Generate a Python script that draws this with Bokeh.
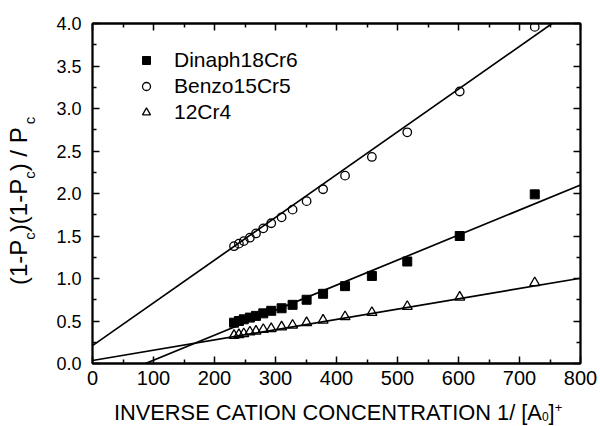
from bokeh.plotting import figure
from bokeh.layouts import column, row
from bokeh.models import (Range1d, LinearAxis, Legend, LegendItem, FixedTicker, Div,
                          CustomJSTickFormatter, NumeralTickFormatter)
from bokeh.embed import file_html
from bokeh.resources import INLINE

# ---- data ----
inv_conc = [232, 240, 248, 258, 268, 280, 293, 310, 328, 351, 378, 414, 458, 516, 602, 725]
y_dinaph18cr6 = [0.48, 0.50, 0.52, 0.54, 0.56, 0.59, 0.62, 0.65, 0.69, 0.75, 0.82, 0.91, 1.03, 1.20, 1.50, 1.99]
y_benzo15cr5 = [1.38, 1.41, 1.44, 1.48, 1.53, 1.59, 1.65, 1.72, 1.81, 1.91, 2.05, 2.21, 2.43, 2.72, 3.20, 3.96]
y_12cr4 = [0.33, 0.34, 0.35, 0.37, 0.38, 0.40, 0.41, 0.43, 0.45, 0.48, 0.51, 0.55, 0.60, 0.67, 0.78, 0.95]

# linear fits (intercept, slope)
fit_dinaph18cr6 = (-0.256, 0.002945)
fit_benzo15cr5 = (0.21, 0.00503)
fit_12cr4 = (0.035, 0.00121)
fit_x = [0, 800]

x_ticks = [0, 100, 200, 300, 400, 500, 600, 700, 800]
y_ticks = [0.0, 0.5, 1.0, 1.5, 2.0, 2.5, 3.0, 3.5, 4.0]

FONT = "Liberation Sans"
YDIV_W = 40
PLOT_H = 400

p = figure(width=600 - YDIV_W, height=PLOT_H, output_backend="svg", toolbar_location=None,
           x_range=Range1d(0, 800), y_range=Range1d(0, 4),
           min_border_left=92 - YDIV_W, min_border_right=20, min_border_top=23,
           min_border_bottom=PLOT_H - 363)
p.xgrid.visible = False
p.ygrid.visible = False
p.outline_line_color = "black"
p.outline_line_width = 1.8
p.background_fill_color = "white"
p.border_fill_color = "white"


def style_axis(ax, show_labels, size):
    ax.axis_line_color = "black"
    ax.axis_line_width = 1.8
    ax.major_tick_line_color = "black"
    ax.minor_tick_line_color = "black"
    ax.major_tick_line_width = 1.5
    ax.minor_tick_line_width = 1.5
    ax.major_tick_in = 7
    ax.major_tick_out = 0
    ax.minor_tick_in = 4
    ax.minor_tick_out = 0
    ax.major_label_text_font = FONT
    ax.major_label_text_color = "black"
    ax.major_label_text_font_size = size
    if not show_labels:
        ax.formatter = CustomJSTickFormatter(code="return ''")
        ax.major_label_standoff = 0


xt = FixedTicker(ticks=x_ticks, minor_ticks=[50 + 100 * i for i in range(8)])
yt = FixedTicker(ticks=y_ticks, minor_ticks=[0.25 + 0.5 * i for i in range(8)])

p.xaxis.ticker = xt
p.yaxis.ticker = yt
p.yaxis.formatter = NumeralTickFormatter(format="0.0")
style_axis(p.xaxis[0], True, "20px")
style_axis(p.yaxis[0], True, "18px")
p.xaxis.major_label_standoff = 7
p.yaxis.major_label_standoff = 11

top_ax = LinearAxis(ticker=xt)
right_ax = LinearAxis(ticker=yt)
style_axis(top_ax, False, "1px")
style_axis(right_ax, False, "1px")
p.add_layout(top_ax, "above")
p.add_layout(right_ax, "right")

# fit lines
for (b, m) in (fit_benzo15cr5, fit_dinaph18cr6, fit_12cr4):
    p.line(fit_x, [b + m * x for x in fit_x], line_color="black", line_width=1.7)

r_d = p.scatter(inv_conc, y_dinaph18cr6, marker="square", size=9,
                fill_color="black", line_color="black")
r_b = p.scatter(inv_conc, y_benzo15cr5, marker="circle", size=8.5,
                fill_color=None, line_color="black", line_width=1.3)
r_t = p.scatter(inv_conc, y_12cr4, marker="triangle", size=10,
                fill_color=None, line_color="black", line_width=1.3)

legend = Legend(items=[LegendItem(label="Dinaph18Cr6", renderers=[r_d]),
                       LegendItem(label="Benzo15Cr5", renderers=[r_b]),
                       LegendItem(label="12Cr4", renderers=[r_t])],
                location=(44, 239), border_line_color=None, background_fill_alpha=0,
                padding=0, margin=0, spacing=2, glyph_width=20, glyph_height=20,
                label_height=20, label_standoff=18, label_text_font=FONT,
                label_text_font_size="21px", label_text_color="black")
p.add_layout(legend)

# y-axis title (rotated, with subscripts)
sub_y = '<span style="font-size:15px; vertical-align:-8px;">c</span>'
y_html = (
    f'<div style="width:{PLOT_H}px; height:{YDIV_W}px; box-sizing:border-box; '
    f'padding-left:{PLOT_H - 285}px; padding-top:4px; line-height:30px; white-space:nowrap; '
    f'font-family:\'{FONT}\'; font-size:24px; color:black; '
    f'transform-origin:0 0; transform:translateY({PLOT_H}px) rotate(-90deg);">'
    f'(1-P{sub_y})(1-P{sub_y}) / P<span style="font-size:15px; vertical-align:-8px; '
    f'margin-left:3px;">c</span></div>'
)
ydiv = Div(text=y_html, width=YDIV_W, height=PLOT_H, margin=0)

# x-axis title (with subscript and superscript)
x_html = (
    f'<div style="width:600px; height:26px; box-sizing:border-box; padding-left:114px; '
    f'padding-top:0px; line-height:15px; white-space:nowrap; font-family:\'{FONT}\'; '
    f'font-size:21.8px; color:black;">'
    'INVERSE CATION CONCENTRATION 1/ [A'
    '<span style="font-size:12px; vertical-align:-1px; line-height:12px;">0</span>]'
    '<span style="font-size:13px; vertical-align:8px;">+</span></div>'
)
xdiv = Div(text=x_html, width=600, height=426 - PLOT_H, margin=0)

layout = column(row(ydiv, p, spacing=0), xdiv, spacing=0)
open("out.html", "w").write(file_html(layout, INLINE))
